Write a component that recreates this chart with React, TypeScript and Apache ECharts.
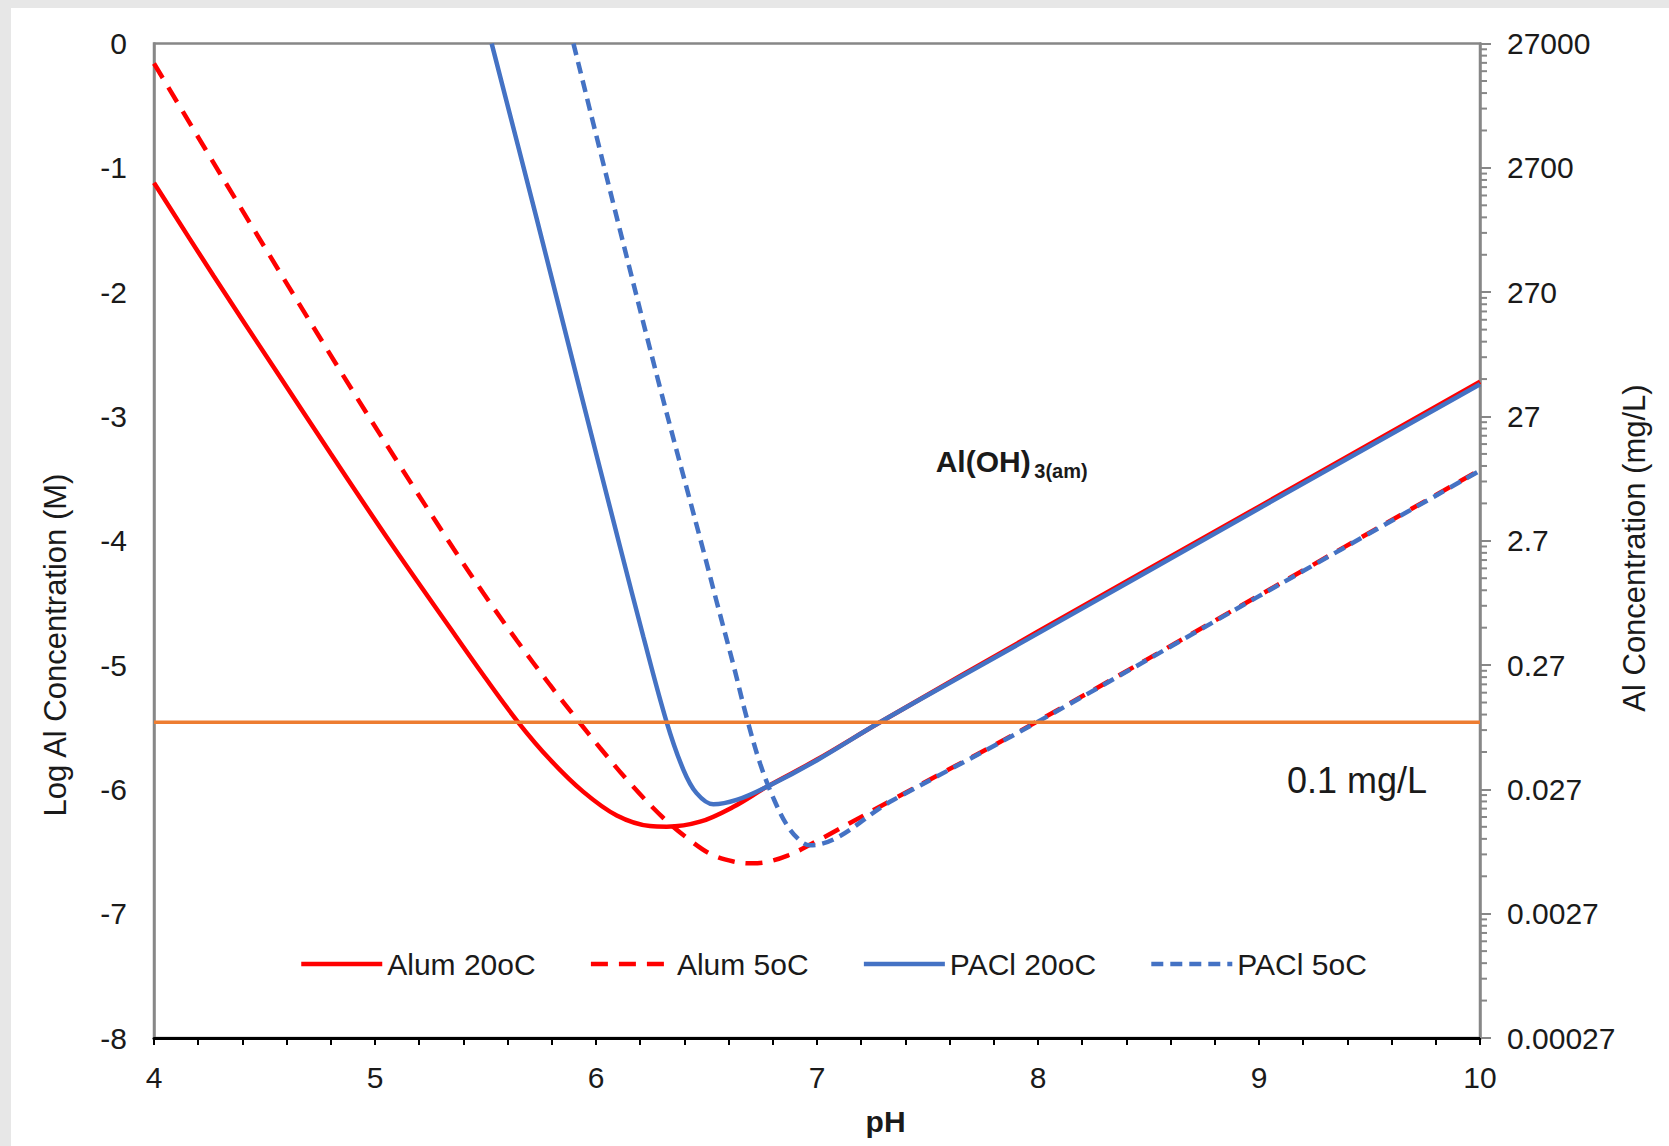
import React, { useEffect, useRef } from 'react';
import * as echarts from 'echarts';

// ---- Data ----
const seriesNames = ['Alum 20oC', 'Alum 5oC', 'PACl 20oC', 'PACl 5oC'];

const alum20X = [4.0, 4.27, 4.555, 4.8, 5.068, 5.339, 5.49, 5.648, 5.792, 5.943, 6.094, 6.244, 6.32, 6.471, 6.622, 6.772, 7.0, 7.285, 8, 9, 10];
const alum20Y = [-1.12, -1.87, -2.64, -3.3, -4.01, -4.7, -5.08, -5.46, -5.76, -6.02, -6.21, -6.295, -6.3, -6.26, -6.14, -5.98, -5.76, -5.46, -4.73, -3.725, -2.72];

const alum5X = [4.0, 4.382, 4.842, 5.1, 5.354, 5.49, 5.641, 5.792, 5.92, 6.018, 6.154, 6.305, 6.441, 6.53, 6.622, 6.7, 6.772, 6.87, 6.953, 7.345, 8, 9, 10];
const alum5Y = [-0.16, -1.29, -2.63, -3.36, -4.06, -4.42, -4.8, -5.16, -5.45, -5.665, -5.95, -6.23, -6.43, -6.53, -6.58, -6.595, -6.585, -6.53, -6.46, -6.08, -5.45, -4.44, -3.43];

const pacl20X = [5.528, 5.729, 5.928, 6.109, 6.214, 6.32, 6.395, 6.455, 6.531, 6.636, 6.772, 7.0, 7.285, 8, 9, 10];
const pacl20Y = [0, -1.39, -2.79, -4.05, -4.77, -5.46, -5.84, -6.03, -6.12, -6.085, -5.98, -5.765, -5.46, -4.745, -3.74, -2.74];

const pacl5X = [5.898, 6.09, 6.29, 6.486, 6.546, 6.622, 6.683, 6.744, 6.804, 6.865, 6.925, 6.968, 7.345, 8, 9, 10];
const pacl5Y = [0, -1.37, -2.77, -4.08, -4.49, -5.0, -5.43, -5.8, -6.075, -6.29, -6.415, -6.45, -6.085, -5.455, -4.445, -3.435];

const limitX = [4, 10];
const limitY = [-5.46, -5.46];

const rightLabels = ['0.00027', '0.0027', '0.027', '0.27', '2.7', '27', '270', '2700', '27000'];
const rightMinorFactors = [2, 3, 4, 5, 6, 7, 8, 9];

const pairs = (xs: number[], ys: number[]) => xs.map((x, i) => [x, ys[i]]);

export default function App() {
  const ref = useRef<HTMLDivElement>(null);

  useEffect(() => {
    document.body.style.margin = '0';
    const chart = echarts.init(ref.current!, null, { renderer: 'svg' });
    const font = '"Liberation Sans", Arial, Helvetica, sans-serif';
    const txt = '#1a1a1a';
    const gray = '#878787';
    const red = '#FF0000';
    const blue = '#4472C4';
    const orange = '#ED7D31';

    const minorTickData: number[][] = [];
    for (let d = -8; d < 0; d++) {
      for (const f of rightMinorFactors) minorTickData.push([10, d + Math.log10(f)]);
    }

    const lineSeries = (name: string, data: number[][], color: string, dash: any) => ({
      name,
      type: 'line',
      data,
      xAxisIndex: 0,
      yAxisIndex: 0,
      showSymbol: false,
      symbol: 'none',
      smooth: 0.35,
      lineStyle: { color, width: 4.5, type: dash, cap: 'butt' },
      itemStyle: { color },
      emphasis: { disabled: true },
    });

    chart.setOption({
      animation: false,
      textStyle: { fontFamily: font },
      grid: {
        left: 143,
        top: 35.6,
        right: 189,
        bottom: 108,
        show: true,
        borderColor: gray,
        borderWidth: 2.5,
        backgroundColor: 'transparent',
      },
      legend: {
        data: seriesNames,
        left: 283,
        top: 936,
        itemWidth: 81,
        itemHeight: 30,
        itemGap: 53,
        itemStyle: { opacity: 0 },
        lineStyle: { width: 4.5 },
        textStyle: { fontSize: 30, color: txt, fontFamily: font },
        selectedMode: false,
      },
      xAxis: {
        type: 'value',
        min: 4,
        max: 10,
        interval: 1,
        position: 'bottom',
        axisLine: { show: true, onZero: false, lineStyle: { color: '#000', width: 3 } },
        axisTick: { show: true, length: 7, lineStyle: { color: '#000', width: 2 } },
        minorTick: { show: true, splitNumber: 5, length: 7, lineStyle: { color: '#000', width: 2 } },
        axisLabel: { margin: 24, fontSize: 30, color: txt, fontFamily: font },
        splitLine: { show: false },
        minorSplitLine: { show: false },
      },
      yAxis: [
        {
          type: 'value',
          min: -8,
          max: 0,
          interval: 1,
          position: 'left',
          axisLine: { show: true, lineStyle: { color: gray, width: 2.5 } },
          axisTick: { show: false },
          axisLabel: { margin: 27, fontSize: 30, color: txt, fontFamily: font },
          splitLine: { show: false },
        },
        {
          type: 'value',
          min: -8,
          max: 0,
          interval: 1,
          position: 'right',
          axisLine: { show: true, lineStyle: { color: gray, width: 2.5 } },
          axisTick: { show: true, length: 11, lineStyle: { color: gray, width: 2 } },
          axisLabel: {
            margin: 27,
            fontSize: 30,
            color: txt,
            fontFamily: font,
            formatter: (v: number) => rightLabels[Math.round(v) + 8] ?? '',
          },
          splitLine: { show: false },
        },
      ],
      series: [
        lineSeries(seriesNames[0], pairs(alum20X, alum20Y), red, 'solid'),
        lineSeries(seriesNames[1], pairs(alum5X, alum5Y), red, [17, 11]),
        lineSeries(seriesNames[2], pairs(pacl20X, pacl20Y), blue, 'solid'),
        lineSeries(seriesNames[3], pairs(pacl5X, pacl5Y), blue, [12, 7]),
        {
          name: 'limit',
          type: 'line',
          data: pairs(limitX, limitY),
          showSymbol: false,
          symbol: 'none',
          lineStyle: { color: orange, width: 3.5 },
          emphasis: { disabled: true },
        },
        {
          name: 'rightMinorTicks',
          type: 'custom',
          xAxisIndex: 0,
          yAxisIndex: 1,
          clip: false,
          silent: true,
          data: minorTickData,
          renderItem: (_p: any, api: any) => {
            const pt = api.coord([api.value(0), api.value(1)]);
            return {
              type: 'line',
              shape: { x1: pt[0], y1: pt[1], x2: pt[0] + 7, y2: pt[1] },
              style: { stroke: gray, lineWidth: 2 },
            };
          },
        },
      ],
      graphic: [
        {
          type: 'text',
          x: 44.4,
          y: 637,
          rotation: Math.PI / 2,
          style: { text: 'Log Al Concentration (M)', fontSize: 31, fontFamily: font, fill: txt, align: 'center', verticalAlign: 'middle' },
        },
        {
          type: 'text',
          x: 1623,
          y: 540,
          rotation: Math.PI / 2,
          style: { text: 'Al Concentration (mg/L)', fontSize: 31, fontFamily: font, fill: txt, align: 'center', verticalAlign: 'middle' },
        },
        {
          type: 'text',
          x: 874.6,
          y: 1113,
          style: { text: 'pH', fontSize: 30, fontWeight: 'bold', fontFamily: font, fill: txt, align: 'center', verticalAlign: 'middle' },
        },
        {
          type: 'text',
          x: 924.7,
          y: 453.7,
          style: { text: 'Al(OH)', fontSize: 30, fontWeight: 'bold', fontFamily: font, fill: txt, align: 'left', verticalAlign: 'middle' },
        },
        {
          type: 'text',
          x: 1023.3,
          y: 463,
          style: { text: '3(am)', fontSize: 20, fontWeight: 'bold', fontFamily: font, fill: txt, align: 'left', verticalAlign: 'middle' },
        },
        {
          type: 'text',
          x: 1276,
          y: 772.8,
          style: { text: '0.1 mg/L', fontSize: 36, fontFamily: font, fill: txt, align: 'left', verticalAlign: 'middle' },
        },
      ],
    });

    return () => chart.dispose();
  }, []);

  return (
    <div
      style={{
        width: 1669,
        height: 1146,
        background: '#e7e7e7',
        paddingLeft: 11,
        paddingTop: 8,
        boxSizing: 'border-box',
      }}
    >
      <div ref={ref} style={{ width: 1658, height: 1138, background: '#ffffff' }} />
    </div>
  );
}
